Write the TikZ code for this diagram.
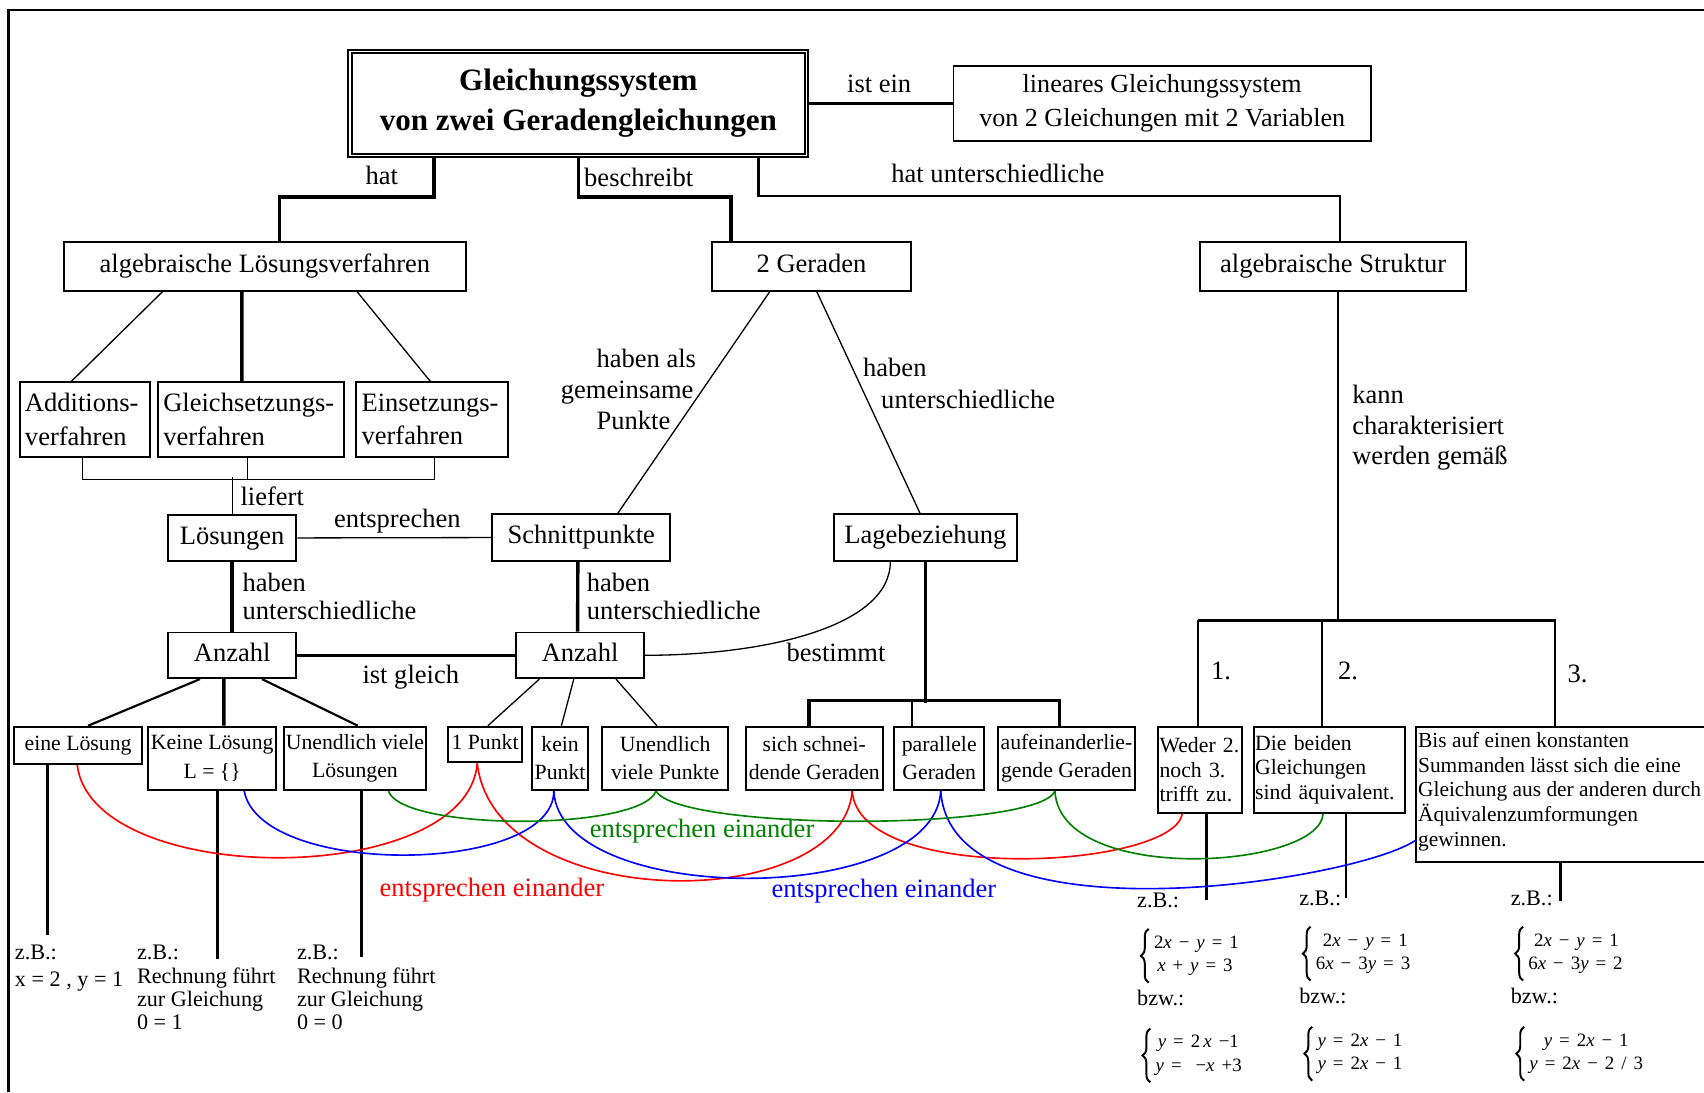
\documentclass[tikz,border=0pt]{standalone}
\usepackage{fontspec}
\setmainfont{Liberation Serif}
\usetikzlibrary{decorations.pathreplacing}
\newcommand\qs{\hspace{3.2pt}}
\begin{document}
\begin{tikzpicture}[x=0.5pt,y=-0.5pt,
  bx/.style={draw, line width=0.9pt, inner sep=0.5pt, align=center},
  fbig/.style={font=\fontsize{12.2}{15.5}\selectfont},
  fsm/.style={font=\fontsize{10}{12.5}\selectfont},
  xc/.style={text height=5.6pt, text depth=0pt},
  xcs/.style={text height=4.6pt, text depth=0pt},
  lbl/.style={inner sep=0pt, fbig},
  slbl/.style={inner sep=0pt, font=\fontsize{10.2}{10.75}\selectfont},
  eqs/.style={inner sep=0pt, anchor=west, align=left, font=\fontsize{8.7}{10.75}\selectfont},
  brc/.style={decorate, decoration={brace, amplitude=3.6pt}, line width=0.9pt},
  thk/.style={line width=1.6pt},
  med/.style={line width=1pt},
  thn/.style={line width=0.6pt},
  rc/.style={draw=red, line width=0.75pt},
  bc/.style={draw=blue, line width=0.75pt},
  gc/.style={draw=green!50!black, line width=0.75pt}]
\useasboundingbox (0,0) rectangle (1568,1005);
\draw[line width=1pt] (7.9,1005) -- (7.9,9.2) -- (1568,9.2);

% ---------- top ----------
\node[draw, line width=1pt, minimum width=211.6pt, minimum height=49.1pt, inner sep=0pt, align=center,
      font=\bfseries\fontsize{14.3}{18.4}\selectfont] (main) at (532.2,95.1) {Gleichungssystem\\von zwei Geradengleichungen};
\draw[line width=0.8pt] ([shift={(4.3,3.7)}]main.north west) rectangle ([shift={(-4.2,-3.7)}]main.south east);
\node[bx, minimum width=192pt, minimum height=34.4pt, font=\fontsize{12}{15.65}\selectfont] (lin) at (1069.4,95.1)
      {lineares Gleichungssystem\\von 2 Gleichungen mit 2 Variablen};
\draw[thk] (main.east) -- (lin.west);
\node[lbl, xc] (list) at (809,79.8) {ist ein};

\node[bx, fbig, xc, minimum width=185.25pt, minimum height=22.25pt] (alg) at (243.75,245.25) {algebraische Lösungsverfahren};
\node[bx, fbig, xc, minimum width=91.2pt, minimum height=22.25pt] (ger) at (746.7,245.25) {2 Geraden};
\node[bx, fbig, xc, minimum width=122.4pt, minimum height=22.25pt] (str) at (1226.8,245.25) {algebraische Struktur};

\draw[thk] ([xshift=39.9pt]main.south west) -- ++(0,35.9) -| ([xshift=6.8pt]alg.north);
\draw[thk] (main.south) -- ++(0,35.9) -| ([xshift=-37.1pt]ger.north);
\draw[med] ([xshift=189.15pt]main.south west) -- ++(0,35.2) -| ([xshift=3.25pt]str.north);
\node[lbl, xc] (lhat) at (351.3,164.1) {hat};
\node[lbl, xc, anchor=west] (lbes) at (537.2,165.6) {beschreibt};
\node[lbl, xc] (lhu) at (918.2,162.6) {hat unterschiedliche};

% ---------- methods ----------
\node[bx, fbig, align=left, text width=55.1pt, inner xsep=2.5pt, minimum height=34.2pt] (add) at (78.1,386) {Additions-\\verfahren};
\node[bx, fbig, align=left, text width=80.6pt, inner xsep=2.5pt, minimum height=34.2pt] (gls) at (230.9,386) {Gleichsetzungs-\\verfahren};
\node[bx, fbig, align=left, text width=64.85pt, inner xsep=2.5pt, minimum height=34.2pt] (ein) at (397.55,386) {Einsetzungs-\\verfahren};
\draw[thn] ([xshift=-47.1pt]alg.south) -- ([xshift=-6.2pt]add.north);
\draw[thk] ([xshift=-10.6pt]alg.south) -- ([xshift=-4.2pt]gls.north);
\draw[thn] ([xshift=42.4pt]alg.south) -- ([xshift=-0.8pt]ein.north);
\draw[thn] ([xshift=-1.25pt]add.south) -- ++(0,20) -| ([xshift=1pt]ein.south);
\draw[thn] ([xshift=-1.45pt]gls.south) -- ++(0,20);

% ---------- middle ----------
\node[bx, fbig, xc, minimum width=59.15pt, minimum height=21pt] (loes) at (213.65,495) {Lösungen};
\node[bx, fbig, xc, minimum width=81.85pt, minimum height=21.35pt] (schn) at (534.85,494.65) {Schnittpunkte};
\node[bx, fbig, xc, minimum width=83.95pt, minimum height=21.35pt] (lage) at (851.45,494.65) {Lagebeziehung};
\node[bx, fbig, xc, minimum width=59.15pt, minimum height=21pt] (anzL) at (213.65,603) {Anzahl};
\node[bx, fbig, xc, minimum width=58.6pt, minimum height=21pt] (anzR) at (533.8,603) {Anzahl};

\draw[thn] (loes.north) -- ++(0,-33.8);
\node[lbl, xc, anchor=west] (llief) at (221,459.5) {liefert};
\draw[thn] (loes.east) -- (schn.west);
\node[lbl, xc] (lents) at (365.6,480) {entsprechen};
\draw[thk] (loes.south) -- (anzL.north);
\node[lbl, anchor=north west, align=left, font=\fontsize{12.2}{13.05}\selectfont] (lhab1) at (222.9,526.5) {haben\\unterschiedliche};
\draw[thk] (anzL.east) -- (anzR.west);
\node[lbl, xc] (lgl) at (378,623) {ist gleich};
\draw[thk] ([xshift=-1.6pt]schn.south) -- ([xshift=-1.1pt]anzR.north);
\node[lbl, anchor=north west, align=left, font=\fontsize{12.2}{13.05}\selectfont] (lhab2) at (539.6,526.5) {haben\\unterschiedliche};

\draw[thn] ([xshift=-19.2pt]ger.south) -- ([xshift=16.8pt]schn.north);
\draw[thn] ([xshift=2.45pt]ger.south) -- ([xshift=-2.4pt]lage.north);
\node[lbl, anchor=north west, align=left, font=\fontsize{12.2}{14.25}\selectfont] (lgem) at (548.6,320.5)
      {haben als\\\hspace*{-16.45pt}gemeinsame\\Punkte};
\node[lbl, anchor=north west, align=left, font=\fontsize{12.2}{14.55}\selectfont] (lunt) at (793.9,329.5)
      {haben\\\hspace*{8.3pt}unterschiedliche};

\draw[thn] ([xshift=-16.1pt]lage.south) .. controls +(0,60) and +(110,0) .. (anzR.east);
\node[lbl, xc] (lbest) at (769.3,603.4) {bestimmt};

% ---------- bottom row ----------
\node[bx, fsm, xcs, minimum width=59.15pt, minimum height=17.15pt] (eine) at (71.85,685.85) {eine Lösung};
\node[bx, minimum width=59pt, minimum height=29.15pt, font=\fontsize{10}{13.5}\selectfont] (keine) at (195.3,697.85) {Keine Lösung\\L = \{\}};
\node[bx, minimum width=65.35pt, minimum height=29.15pt, font=\fontsize{10}{13.25}\selectfont] (unL) at (326.65,697.85) {Unendlich viele\\Lösungen};
\node[bx, fsm, xcs, minimum width=34.35pt, minimum height=16.4pt] (p1) at (446.35,685.1) {1 Punkt};
\node[bx, minimum width=25.9pt, minimum height=29.15pt, font=\fontsize{10}{12.75}\selectfont] (kp) at (515.4,697.85) {kein\\Punkt};
\node[bx, minimum width=58.05pt, minimum height=29.15pt, font=\fontsize{10}{12.75}\selectfont] (unR) at (612.05,697.85) {Unendlich\\viele Punkte};
\node[bx, minimum width=62.8pt, minimum height=29.15pt, font=\fontsize{10}{12.75}\selectfont] (schneid) at (749.3,697.85) {sich schnei-\\dende Geraden};
\node[bx, minimum width=41.55pt, minimum height=29.15pt, font=\fontsize{10}{12.75}\selectfont] (par) at (864.25,697.85) {parallele\\Geraden};
\node[bx, minimum width=62.75pt, minimum height=29.15pt, font=\fontsize{10}{12.75}\selectfont] (auf) at (981.35,697.85) {aufeinanderlie-\\gende Geraden};
\node[bx, align=left, text width=37.55pt, inner xsep=0.5pt, minimum height=39.55pt, font=\fontsize{10}{11.4}\selectfont] (weder) at (1104.55,708.25) {Weder 2.\\noch 3.\\trifft zu.};
\node[bx, align=left, text width=68.4pt, inner xsep=0.5pt, minimum height=39.55pt, font=\fontsize{10}{11.4}\selectfont] (beide) at (1223.4,708.25) {Die beiden\\Gleichungen\\sind äquivalent.};
\draw[line width=0.9pt] (1568,668.7) -- (1303,668.7) -- (1303,793.5) -- (1568,793.5);
\node[inner sep=0pt, anchor=north west, align=left, font=\fontsize{9.85}{11.3}\selectfont] (bis) at (1304.5,673.9)
  {Bis auf einen konstanten\\Summanden lässt sich die eine\\Gleichung aus der anderen durch\\Äquivalenzumformungen\\gewinnen.};
\coordinate (bisL) at (1303,773);
\coordinate (bisT) at (1430.6,668.7);
\coordinate (bisB) at (1436,793.5);

% connectors to bottom row
\draw[med] ([xshift=-14.8pt]anzL.south) -- ([xshift=4.6pt]eine.north);
\draw[thk] ([xshift=-3.8pt]anzL.south) -- ([xshift=5.35pt]keine.north);
\draw[med] ([xshift=13.7pt]anzL.south) -- ([xshift=1.3pt]unL.north);
\draw[thn] ([xshift=-18.75pt]anzR.south) -- ([xshift=1.3pt]p1.north);
\draw[thn] ([xshift=-2.9pt]anzR.south) -- ([xshift=0.6pt]kp.north);
\draw[thn] ([xshift=16.5pt]anzR.south) -- ([xshift=-3.8pt]unR.north);
\draw[thk] ([xshift=0.1pt]lage.south) -- ++(0,129.7);
\draw[thk] ([xshift=-2.4pt]schneid.north) -- ++(0,-23) -| ([xshift=-3.3pt]auf.north);
\draw[thn] ([xshift=-12.5pt]par.north) -- ++(0,-23);

% algebraische Struktur
\draw[med] ([xshift=2.15pt]str.south) -- ++(0,303.7);
\node[lbl, anchor=north west, align=left, font=\fontsize{12.2}{14.1}\selectfont] (lkann) at (1244,353.9)
  {kann\\charakterisiert\\werden gemäß};
\coordinate (sbL) at (1102,571.2);
\coordinate (sbR) at (1431.4,571.2);
\draw[thk] (sbL) -- (sbR);
\draw[med] ([xshift=-1pt]weder.north) -- ++(0,-97.5);
\draw[med] ([xshift=-3.35pt]beide.north) -- ++(0,-97.5);
\draw[med] (bisT) -- ++(0,-97.5);
\node[lbl, xc, anchor=west] (n1) at (1114,619.6) {1.};
\node[lbl, xc, anchor=west] (n2) at (1231,619.6) {2.};
\node[lbl, xc, anchor=west] (n3) at (1442,622.7) {3.};

% examples left
\draw[thk] ([xshift=-14.1pt]eine.south) -- ++(0,156.8);
\draw[thk] ([xshift=2.35pt]keine.south) -- ++(0,154.9);
\draw[thk] ([xshift=2.9pt]unL.south) -- ++(0,153);
\node[slbl, anchor=north west, align=left, font=\fontsize{10.2}{12.25}\selectfont] (zb1) at (13.4,869.5) {z.B.:\\x = 2 , y = 1};
\node[slbl, anchor=north west, align=left] (zb2) at (125.7,869.5) {z.B.:\\Rechnung führt\\zur Gleichung\\0 = 1};
\node[slbl, anchor=north west, align=left] (zb3) at (272.9,869.5) {z.B.:\\Rechnung führt\\zur Gleichung\\0 = 0};

% examples right
\draw[med] ([xshift=2.8pt]weder.south) -- ++(0,79.5);
\draw[med] ([xshift=7.6pt]beide.south) -- ++(0,77.2);
\draw[med] (bisB) -- ++(0,35.3);
\node[slbl, xcs, anchor=west] (zb4) at (1046,830.3) {z.B.:};
\node[eqs] (eq1) at (1061.5,879.5) {2\textit{x}\qs−\qs\textit{y}\qs=\qs1\\\hspace*{1.5pt}\textit{x}\qs+\qs\textit{y}\qs=\qs3};
\node[slbl, xcs, anchor=west] (bz1) at (1046,920.8) {bzw.:};
\node[eqs] (eq2) at (1063,971.2) {\hspace*{1pt}\textit{y}\qs=\qs2\,\textit{x}\qs−1\\\textit{y}\qs=\qs\qs−\textit{x}\qs+3};
\node[slbl, xcs, anchor=west] (zb5) at (1195.2,828.8) {z.B.:};
\node[eqs] (eq3) at (1210.5,877.5) {\hspace*{3.2pt}2\textit{x}\qs−\qs\textit{y}\qs=\qs1\\6\textit{x}\qs−\qs3\textit{y}\qs=\qs3};
\node[slbl, xcs, anchor=west] (bz2) at (1195.2,918.7) {bzw.:};
\node[eqs] (eq4) at (1212,969.6) {\textit{y}\qs=\qs2\textit{x}\qs−\qs1\\\textit{y}\qs=\qs2\textit{x}\qs−\qs1};
\node[slbl, xcs, anchor=west] (zb6) at (1389.8,828.8) {z.B.:};
\node[eqs] (eq5) at (1406,877.5) {\hspace*{2.6pt}2\textit{x}\qs−\qs\textit{y}\qs=\qs1\\6\textit{x}\qs−\qs3\textit{y}\qs=\qs2};
\node[slbl, xcs, anchor=west] (bz3) at (1389.8,918.7) {bzw.:};
\node[eqs] (eq6) at (1407,969.6) {\hspace*{6.6pt}\textit{y}\qs=\qs2\textit{x}\qs−\qs1\\\textit{y}\qs=\qs2\textit{x}\qs−\qs2\qs/\qs3};
\foreach \e in {eq1,eq2,eq3,eq4,eq5,eq6}
  \draw[brc] ([shift={(-4.5,6)}]\e.south west) -- ([shift={(-4.5,-6)}]\e.north west);

% coloured correspondences
\draw[rc] ([xshift=-0.4pt]eine.south) .. controls (85,818) and (430,818) .. ([xshift=-3.6pt]p1.south);
\draw[rc] ([xshift=-3.6pt]p1.south) .. controls (455,842) and (775,842) .. ([xshift=17.45pt]schneid.south);
\draw[rc] ([xshift=17.45pt]schneid.south) .. controls (790,815) and (1080,800) .. ([xshift=-8.3pt]weder.south);
\draw[bc] ([xshift=14.7pt]keine.south) .. controls (240,808) and (510,805) .. ([xshift=-2.9pt]kp.south);
\draw[bc] ([xshift=-2.9pt]kp.south) .. controls (515,835) and (860,835) .. ([xshift=0.7pt]par.south);
\draw[bc] ([xshift=0.7pt]par.south) .. controls (875,870) and (1250,810) .. (bisL);
\draw[gc] ([xshift=15.4pt]unL.south) .. controls (370,765) and (590,765) .. ([xshift=-4.2pt]unR.south);
\draw[gc] ([xshift=-4.2pt]unR.south) .. controls (625,765) and (955,765) .. ([xshift=-5.3pt]auf.south);
\draw[gc] ([xshift=-5.3pt]auf.south) .. controls (975,815) and (1215,800) .. ([xshift=-2.95pt]beide.south);
\node[lbl, xc, text=green!50!black] (lg) at (646,765.3) {entsprechen einander};
\node[lbl, xc, text=red] (lr) at (452.6,819) {entsprechen einander};
\node[lbl, xc, text=blue] (lb) at (813.4,820.5) {entsprechen einander};
\end{tikzpicture}
\end{document}
